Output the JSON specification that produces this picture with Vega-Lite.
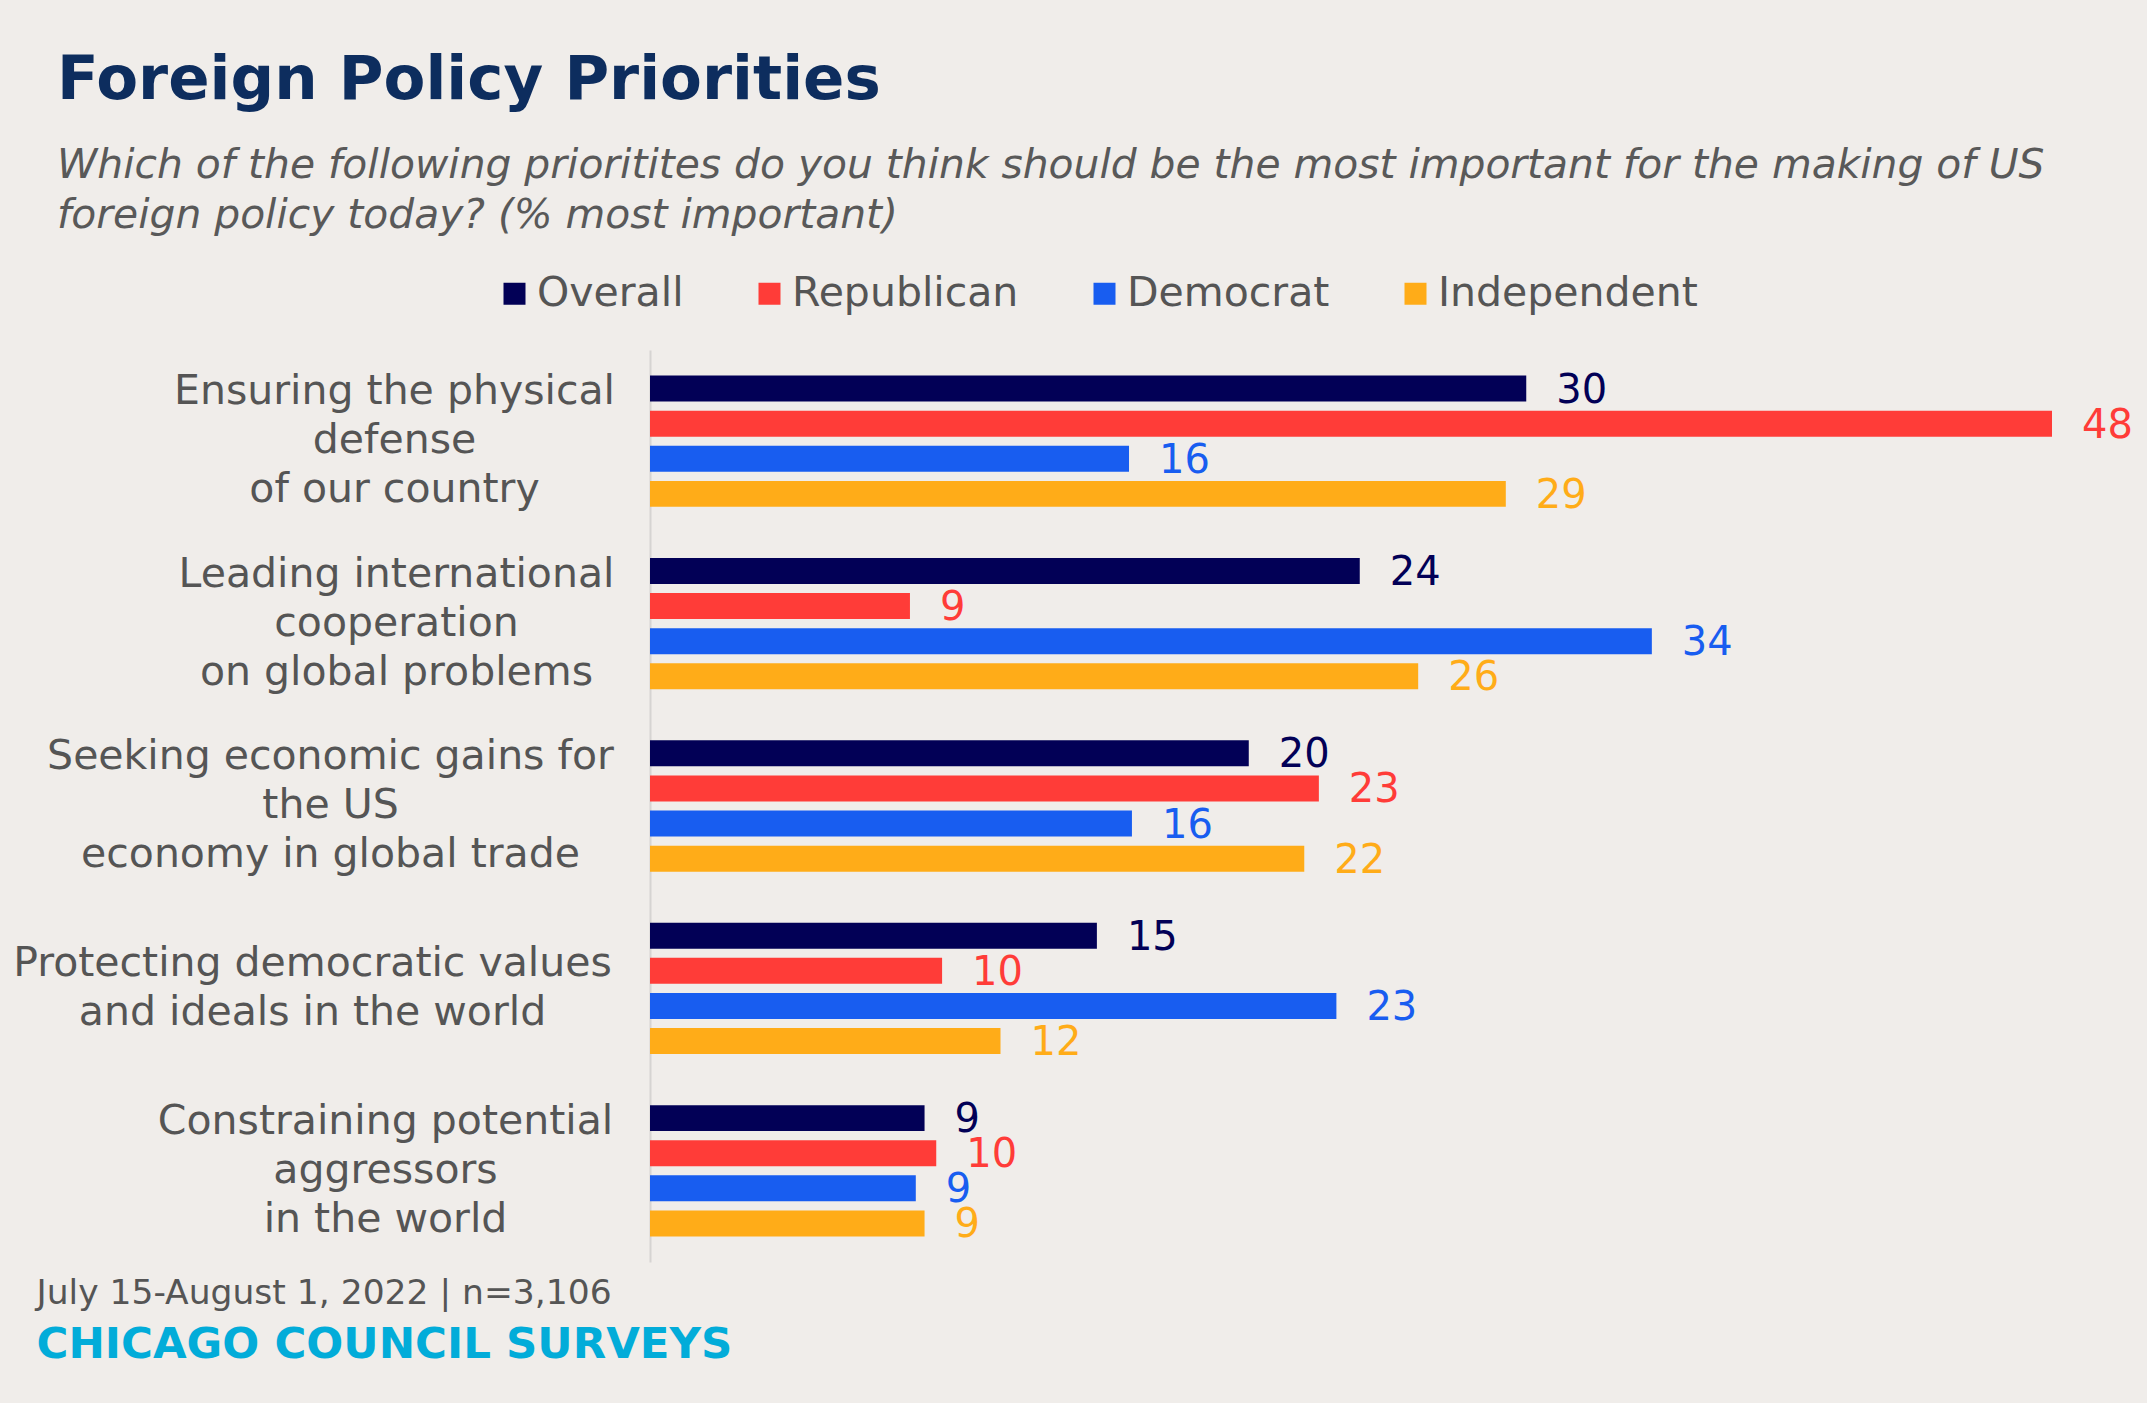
{
  "$schema": "https://vega.github.io/schema/vega-lite/v6.json",
  "width": 1402,
  "height": 912,
  "autosize": {"type": "none"},
  "padding": {"left": 650, "top": 350, "right": 95, "bottom": 141},
  "background": "#f0edea",
  "title": {
    "text": "Foreign Policy Priorities",
    "subtitle": ["Which of the following prioritites do you think should be the most important for the making of US", "foreign policy today? (% most important)"],
    "anchor": "start",
    "frame": "group",
    "dx": -593,
    "offset": 36,
    "font": "DejaVu Sans",
    "fontSize": 61,
    "fontWeight": "bold",
    "color": "#0d2d5e",
    "subtitleFont": "DejaVu Sans",
    "subtitleFontStyle": "italic",
    "subtitleFontSize": 40.8,
    "subtitleColor": "#595959",
    "subtitleLineHeight": 50,
    "subtitlePadding": 34
  },
  "data": {
    "values": [
      {"priority": "Ensuring the physical|defense|of our country", "party": "Overall", "value": 30.0, "label": 30},
      {"priority": "Ensuring the physical|defense|of our country", "party": "Republican", "value": 48.0, "label": 48},
      {"priority": "Ensuring the physical|defense|of our country", "party": "Democrat", "value": 16.4, "label": 16},
      {"priority": "Ensuring the physical|defense|of our country", "party": "Independent", "value": 29.3, "label": 29},
      {"priority": "Leading international|cooperation|on global problems", "party": "Overall", "value": 24.3, "label": 24},
      {"priority": "Leading international|cooperation|on global problems", "party": "Republican", "value": 8.9, "label": 9},
      {"priority": "Leading international|cooperation|on global problems", "party": "Democrat", "value": 34.3, "label": 34},
      {"priority": "Leading international|cooperation|on global problems", "party": "Independent", "value": 26.3, "label": 26},
      {"priority": "Seeking economic gains for|the US|economy in global trade", "party": "Overall", "value": 20.5, "label": 20},
      {"priority": "Seeking economic gains for|the US|economy in global trade", "party": "Republican", "value": 22.9, "label": 23},
      {"priority": "Seeking economic gains for|the US|economy in global trade", "party": "Democrat", "value": 16.5, "label": 16},
      {"priority": "Seeking economic gains for|the US|economy in global trade", "party": "Independent", "value": 22.4, "label": 22},
      {"priority": "Protecting democratic values|and ideals in the world", "party": "Overall", "value": 15.3, "label": 15},
      {"priority": "Protecting democratic values|and ideals in the world", "party": "Republican", "value": 10.0, "label": 10},
      {"priority": "Protecting democratic values|and ideals in the world", "party": "Democrat", "value": 23.5, "label": 23},
      {"priority": "Protecting democratic values|and ideals in the world", "party": "Independent", "value": 12.0, "label": 12},
      {"priority": "Constraining potential|aggressors|in the world", "party": "Overall", "value": 9.4, "label": 9},
      {"priority": "Constraining potential|aggressors|in the world", "party": "Republican", "value": 9.8, "label": 10},
      {"priority": "Constraining potential|aggressors|in the world", "party": "Democrat", "value": 9.1, "label": 9},
      {"priority": "Constraining potential|aggressors|in the world", "party": "Independent", "value": 9.4, "label": 9}
    ]
  },
  "encoding": {
    "y": {
      "field": "priority",
      "type": "nominal",
      "sort": ["Ensuring the physical|defense|of our country", "Leading international|cooperation|on global problems", "Seeking economic gains for|the US|economy in global trade", "Protecting democratic values|and ideals in the world", "Constraining potential|aggressors|in the world"],
      "scale": {"paddingInner": 0.23, "paddingOuter": 0.115},
      "axis": {
        "title": "July 15-August 1, 2022 | n=3,106",
        "titleAngle": 0,
        "titleAlign": "left",
        "titleBaseline": "alphabetic",
        "titleX": -614,
        "titleY": 953,
        "titleFont": "DejaVu Sans",
        "titleFontSize": 34.5,
        "titleFontWeight": "normal",
        "titleColor": "#555555",
        "domain": true,
        "domainColor": "#d6d4d2",
        "domainWidth": 2,
        "ticks": false,
        "grid": false,
        "labelExpr": "split(datum.label, '|')",
        "labelAlign": "center",
        "labelBaseline": "middle",
        "labelPadding": {"expr": "indexof(datum.value,'Seeking')==0 ? 320 : indexof(datum.value,'Protecting')==0 ? 338 : indexof(datum.value,'Constraining')==0 ? 265 : indexof(datum.value,'Leading')==0 ? 254 : 256"},
        "labelOffset": {"expr": "-(length(split(datum.value,'|'))-1)*24.5"},
        "labelFont": "DejaVu Sans",
        "labelFontSize": 41,
        "labelColor": "#555555",
        "labelLineHeight": 49,
        "labelLimit": 0
      }
    },
    "yOffset": {
      "field": "party",
      "type": "nominal",
      "sort": ["Overall", "Republican", "Democrat", "Independent"],
      "scale": {"paddingInner": 0.26, "paddingOuter": 0.13}
    },
    "x": {
      "field": "value",
      "type": "quantitative",
      "scale": {"domain": [0, 48], "nice": false, "zero": true},
      "axis": {
        "orient": "bottom",
        "title": "CHICAGO COUNCIL SURVEYS",
        "titleX": -614,
        "titleY": 95,
        "titleAlign": "left",
        "titleBaseline": "alphabetic",
        "titleFont": "DejaVu Sans",
        "titleFontSize": 43.5,
        "titleFontWeight": "bold",
        "titleColor": "#02acd9",
        "domain": false,
        "ticks": false,
        "labels": false,
        "grid": false
      }
    },
    "color": {
      "field": "party",
      "type": "nominal",
      "sort": ["Overall", "Republican", "Democrat", "Independent"],
      "scale": {
        "domain": ["Overall", "Republican", "Democrat", "Independent"],
        "range": ["#020056", "#ff3c38", "#185df0", "#ffac18"]
      },
      "legend": {
        "title": null,
        "orient": "none",
        "legendX": -156,
        "legendY": -77,
        "direction": "horizontal",
        "columns": 4,
        "symbolType": "square",
        "symbolSize": 484,
        "symbolStrokeWidth": 0,
        "symbolOpacity": 1,
        "labelFont": "DejaVu Sans",
        "labelFontSize": 41,
        "labelColor": "#555555",
        "labelOffset": 2,
        "columnPadding": 65,
        "padding": 0,
        "labelLimit": 0
      }
    }
  },
  "layer": [
    {"mark": {"type": "bar"}},
    {
      "mark": {"type": "text", "align": "left", "baseline": "middle", "dx": 30, "dy": 2, "font": "DejaVu Sans", "fontSize": 40},
      "encoding": {"text": {"field": "label", "type": "quantitative"}}
    }
  ],
  "config": {"view": {"stroke": null}}
}
